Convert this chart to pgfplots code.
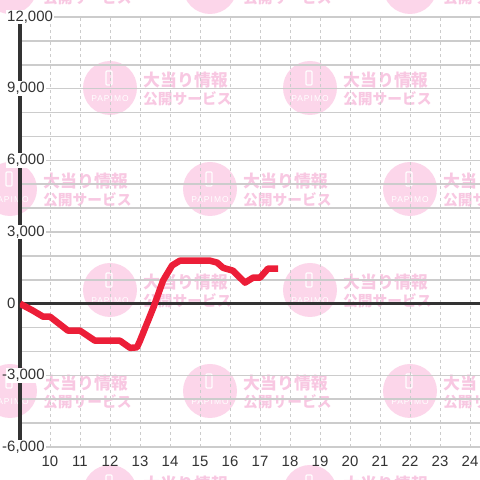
\documentclass[border=0pt]{standalone}
\usepackage{pgfplots}
\pgfplotsset{compat=1.18}
\usepackage{fontspec}
\setmainfont{Liberation Sans}
\newfontfamily\cjk{Noto Sans CJK JP}
\definecolor{linered}{RGB}{236,30,56}
\definecolor{wmcircle}{RGB}{252,214,234}
\definecolor{wmtext}{RGB}{248,200,226}
\definecolor{gridgray}{RGB}{204,204,204}
\definecolor{axisdark}{RGB}{51,51,51}
\newcommand{\wm}[2]{%
  \fill[wmcircle] (#1,#2) circle[radius=27];
  \draw[white, line width=1.1bp, rounded corners=0.8bp] (#1-4,#2-17) rectangle (#1+2,#2-3);
  \node[white, inner sep=0, font=\fontsize{8.5}{9}\selectfont\addfontfeatures{LetterSpace=12}] at (#1,#2+11) {PAPIMO};
  \node[wmtext, anchor=west, inner sep=0, font=\cjk\bfseries\fontsize{17}{17}\selectfont] at (#1+33,#2-8) {大当り情報};
  \node[wmtext, anchor=west, inner sep=0, font=\cjk\bfseries\fontsize{14.8}{15}\selectfont] at (#1+33,#2+11) {公開サービス};
}
\begin{document}
\begin{tikzpicture}
\useasboundingbox (0,0) rectangle (480bp,480bp);
\clip (0,0) rectangle (480bp,480bp);
\begin{scope}[x=1bp,y=-1bp,yshift=480bp]
  \foreach \cy in {-13,189,391}{\foreach \cx in {10,210,410}{\wm{\cx}{\cy}}}
  \foreach \cy in {88,290,492}{\foreach \cx in {110,310}{\wm{\cx}{\cy}}}
\end{scope}
\begin{axis}[
  at={(20bp,33bp)}, anchor=south west,
  scale only axis, width=460bp, height=430bp,
  xmin=9, xmax=24.333, ymin=-6000, ymax=12000,
  axis lines=left,
  x axis line style={draw=none},
  y axis line style={axisdark, line width=4bp, -},
  scaled y ticks=false,
  /pgf/number format/assume math mode=true,
  xtick={10,...,24},
  minor xtick={},
  ytick={-6000,-3000,0,3000,6000,9000,12000},
  yticklabels={{\llap{-}6,000},{\llap{-}3,000},0,{3,000},{6,000},{9,000},{12,000}},
  minor ytick={-5000,-4000,-2000,-1000,1000,2000,4000,5000,7000,8000,10000,11000},
  xmajorgrids, ymajorgrids, yminorgrids,
  major x grid style={gridgray, line width=0.8bp, dash pattern=on 3bp off 3bp},
  major y grid style={gridgray, line width=1.5bp},
  minor y grid style={gridgray, line width=1.5bp},
  major tick length=0pt, minor tick length=0pt,
  tick style={draw=none},
  yticklabel style={anchor=west, xshift=-14bp, fill=white, inner sep=1bp, text=axisdark, font=\fontsize{15}{15}\selectfont},
  xticklabel style={anchor=center, yshift=-14bp, inner sep=0pt, text=axisdark, font=\fontsize{15}{15}\selectfont},
  clip=true,
]
\addplot[axisdark, line width=3bp, forget plot] coordinates {(9,0) (24.333,0)};
\addplot[linered, line width=6.5bp, line join=round, line cap=butt] coordinates {
(9,0) (9.43,-290) (9.77,-545) (10.0,-545) (10.6,-1130) (11.0,-1130)
(11.5,-1550) (12.33,-1550) (12.67,-1850) (12.9,-1830)
(13.0,-1550) (13.45,-150) (13.77,970) (14.07,1600) (14.33,1800)
(15.33,1800) (15.57,1720) (15.77,1500) (16.1,1380) (16.5,880)
(16.77,1090) (17.0,1090) (17.27,1470) (17.6,1470)
};
\end{axis}
\end{tikzpicture}
\end{document}
